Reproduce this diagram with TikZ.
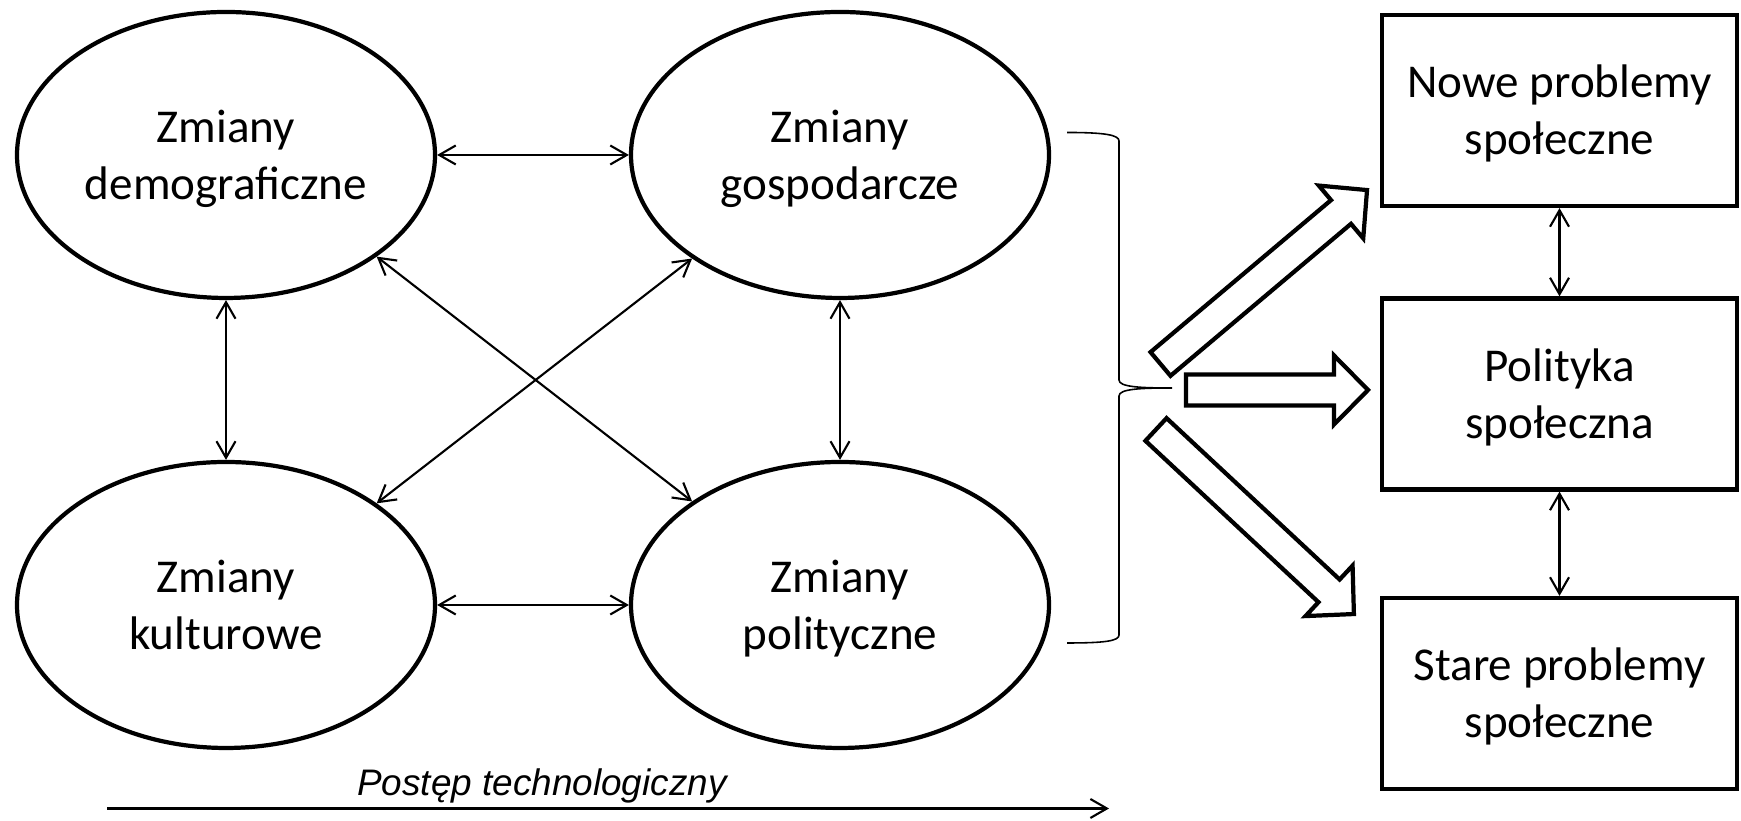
\documentclass[tikz,border=0pt]{standalone}
\usepackage{fontspec}
\setmainfont{Carlito}
\newfontfamily\arialfont{Liberation Sans}
\usepackage{tikz}
\usetikzlibrary{shapes.geometric}
\usetikzlibrary{arrows.meta}
\newcommand{\twolines}[2]{\rule{0pt}{13pt}#1\\#2\rule[-4pt]{0pt}{0pt}}
\tikzstyle{OvalNode}=[ellipse,draw,line width=1.2pt,minimum width=4.18cm,
minimum height=2.86cm,align=center,inner sep=0pt,font=\fontsize{13.4}{16.3}\selectfont]
\tikzstyle{BoxNode}=[rectangle,draw,line width=1.2pt,minimum width=3.55cm,
minimum height=1.91cm,align=center,inner sep=0pt,font=\fontsize{13.4}{16.3}\selectfont]
\tikzstyle{TwoWay}=[line width=.6pt,{Straight Barb[length=4.7pt,width=5.4pt]}-{Straight Barb[length=4.7pt,width=5.4pt]}]
\tikzstyle{OneWay}=[line width=.6pt,-{Straight Barb[length=4.7pt,width=5.4pt]}]
\tikzstyle{FatArrow}=[line width=1.2pt,line join=miter]
\newcommand{\fatarrow}[3]{% tail, angle, length
  \draw[FatArrow,shift={#1},rotate=#2] (0,-.155) -- (#3-.34,-.155) -- (#3-.34,-.345)
    -- (#3,0) -- (#3-.34,.345) -- (#3-.34,.155) -- (0,.155) -- cycle;}

\begin{document}
\begin{tikzpicture}
        \useasboundingbox (0,0) rectangle (17.41,8.21);
        % the four kinds of change
        \node[OvalNode](demo)at(2.26,6.66){\twolines{Zmiany}{demograficzne}};
        \node[OvalNode](gosp)at(8.40,6.66){\twolines{Zmiany}{gospodarcze}};
        \node[OvalNode](kult)at(2.26,2.16){\twolines{Zmiany}{kulturowe}};
        \node[OvalNode](polit)at(8.40,2.16){\twolines{Zmiany}{polityczne}};
        \draw[TwoWay](demo.east)--(gosp.west);
        \draw[TwoWay](kult.east)--(polit.west);
        \draw[TwoWay](demo.south)--(kult.north);
        \draw[TwoWay](gosp.south)--(polit.north);
        \draw[TwoWay](demo.-34.7)--(polit.145.5);
        \draw[TwoWay](gosp.-145.5)--(kult.34.7);
        % brace
        \draw[line width=.45pt](10.67,6.885) .. controls (11.05,6.885) and (11.19,6.86) .. (11.19,6.80)
            -- (11.19,4.41) .. controls (11.19,4.34) and (11.40,4.33) .. (11.72,4.33)
            .. controls (11.40,4.33) and (11.19,4.32) .. (11.19,4.25)
            -- (11.19,1.86) .. controls (11.19,1.80) and (11.05,1.78) .. (10.67,1.78);
        % social problems and policy
        \node[BoxNode](nowe)at(15.595,7.105){\twolines{Nowe problemy}{społeczne}};
        \node[BoxNode](pol)at(15.595,4.27){\twolines{Polityka}{społeczna}};
        \node[BoxNode](stare)at(15.595,1.275){\twolines{Stare problemy}{społeczne}};
        \draw[TwoWay](nowe)--(pol);
        \draw[TwoWay](pol)--(stare);
        % block arrows
        \coordinate(up)at(11.605,4.57);
        \coordinate(mid)at(11.86,4.31);
        \coordinate(down)at(11.56,3.915);
        \fatarrow{(up)}{40.1}{2.70}
        \fatarrow{(mid)}{0}{1.82}
        \fatarrow{(down)}{-43}{2.706}
        % technology
        \coordinate(t0)at(1.07,0.125);
        \coordinate(t1)at(11.09,0.125);
        \draw[OneWay](t0)--(t1);
        \node[font=\arialfont\itshape\fontsize{10.5}{12}\selectfont](tech)at(5.42,0.35){Postęp technologiczny};
    \end{tikzpicture}
\end{document}
